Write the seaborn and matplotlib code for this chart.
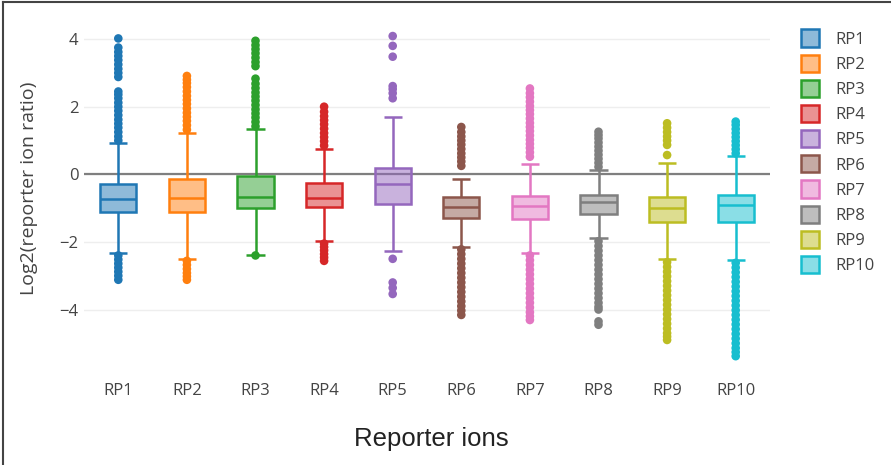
import numpy as np
import pandas as pd
import matplotlib
matplotlib.use("Agg")
import matplotlib.pyplot as plt
import seaborn as sns
from matplotlib.patches import Patch
from matplotlib.lines import Line2D
from matplotlib.colors import to_rgba

# ---------------- data ----------------
ions = ["RP1", "RP2", "RP3", "RP4", "RP5", "RP6", "RP7", "RP8", "RP9", "RP10"]
colors = ["#1f77b4", "#ff7f0e", "#2ca02c", "#d62728", "#9467bd",
          "#8c564b", "#e377c2", "#7f7f7f", "#bcbd22", "#17becf"]

whisker_low = [-2.32, -2.50, -2.40, -1.98, -2.26, -2.15, -2.32, -1.89, -2.51, -2.54]
q1 = [-1.10, -1.11, -1.00, -0.98, -0.88, -1.28, -1.33, -1.17, -1.42, -1.41]
median = [-0.74, -0.71, -0.66, -0.69, -0.29, -0.96, -0.94, -0.81, -1.00, -0.92]
q3 = [-0.28, -0.15, -0.04, -0.27, 0.18, -0.66, -0.64, -0.60, -0.66, -0.60]
whisker_high = [0.92, 1.23, 1.33, 0.76, 1.70, -0.15, 0.31, 0.14, 0.34, 0.54]

rp1_outliers = [1.0, 1.12, 1.25, 1.38, 1.5, 1.62, 1.75, 1.88, 2.0, 2.12, 2.25, 2.36, 2.45,
                2.88, 3.0, 3.12, 3.25, 3.38, 3.5, 3.62, 3.75, 4.02,
                -2.4, -2.52, -2.64, -2.76, -2.88, -3.0, -3.12]
rp2_outliers = [1.32, 1.45, 1.58, 1.7, 1.82, 1.95, 2.08, 2.2, 2.32, 2.45, 2.58, 2.7, 2.8, 2.91,
                -2.56, -2.68, -2.8, -2.92, -3.02, -3.12]
rp3_outliers = [1.42, 1.55, 1.68, 1.8, 1.92, 2.05, 2.18, 2.3, 2.42, 2.55, 2.68, 2.83,
                3.2, 3.32, 3.45, 3.58, 3.7, 3.82, 3.95,
                -2.4]
rp4_outliers = [0.85, 0.98, 1.1, 1.22, 1.35, 1.48, 1.6, 1.72, 1.85, 2.0,
                -2.05, -2.15, -2.25, -2.36, -2.46, -2.56]
rp5_outliers = [2.25, 2.4, 2.52, 2.61, 3.48, 3.8, 4.09,
                -2.5, -3.2, -3.36, -3.54]
rp6_outliers = [0.25, 0.38, 0.5, 0.62, 0.75, 0.88, 1.0, 1.12, 1.25, 1.4,
                -2.22, -2.36, -2.5, -2.64, -2.78, -2.92, -3.06, -3.2, -3.34,
                -3.48, -3.62, -3.76, -3.9, -4.03, -4.16]
rp7_outliers = [0.52, 0.65, 0.78, 0.9, 1.02, 1.15, 1.28, 1.4, 1.52, 1.65, 1.78, 1.9,
                2.02, 2.15, 2.28, 2.4, 2.54,
                -2.4, -2.54, -2.68, -2.82, -2.96, -3.1, -3.24, -3.38, -3.52,
                -3.66, -3.8, -3.94, -4.08, -4.2, -4.31]
rp8_outliers = [0.22, 0.34, 0.46, 0.58, 0.7, 0.82, 0.94, 1.06, 1.16, 1.26,
                -1.98, -2.12, -2.26, -2.4, -2.54, -2.68, -2.82, -2.96, -3.1,
                -3.24, -3.38, -3.52, -3.66, -3.8, -3.92, -4.0, -4.35, -4.45]
rp9_outliers = [0.57, 0.87, 1.0, 1.12, 1.25, 1.38, 1.51,
                -2.6, -2.74, -2.88, -3.02, -3.16, -3.3, -3.44, -3.58, -3.72,
                -3.86, -4.0, -4.14, -4.28, -4.42, -4.56, -4.7, -4.8, -4.9]
rp10_outliers = [0.62, 0.74, 0.86, 0.98, 1.1, 1.22, 1.34, 1.46, 1.56,
                 -2.62, -2.76, -2.9, -3.04, -3.18, -3.32, -3.46, -3.6, -3.74,
                 -3.88, -4.02, -4.16, -4.3, -4.44, -4.58, -4.72, -4.86, -5.0,
                 -5.14, -5.26, -5.38]
outlier_lists = [rp1_outliers, rp2_outliers, rp3_outliers, rp4_outliers, rp5_outliers,
                 rp6_outliers, rp7_outliers, rp8_outliers, rp9_outliers, rp10_outliers]

y_ticks = [-4, -2, 0, 2, 4]

# ---------------- tables ----------------
# five-number summary per box; with whis=(0, 100) and linear percentiles,
# these 5 values give exactly q1 / median / q3 and the whisker ends
box_rows = []
for i, ion in enumerate(ions):
    for v in (whisker_low[i], q1[i], median[i], q3[i], whisker_high[i]):
        box_rows.append({"ion": ion, "value": v})
box_df = pd.DataFrame(box_rows)

out_rows = []
for ion, vals in zip(ions, outlier_lists):
    for v in vals:
        out_rows.append({"ion": ion, "value": v})
out_df = pd.DataFrame(out_rows)

# ---------------- figure ----------------
W, H = 891, 465
fig = plt.figure(figsize=(W / 100, H / 100), dpi=100)
fig.patch.set_facecolor("white")

ax_left, ax_right, ax_top, ax_bot = 84, 770, 23.9, 365.3
ax = fig.add_axes([ax_left / W, 1 - ax_bot / H, (ax_right - ax_left) / W, (ax_bot - ax_top) / H])

tick_font = ["Open Sans", "DejaVu Sans"]
LW = 1.8

sns.boxplot(data=box_df, x="ion", y="value", hue="ion", order=ions, hue_order=ions,
            palette=colors, whis=(0, 100), showfliers=False, width=0.53,
            linewidth=LW, legend=False, ax=ax, zorder=2)

for i, cont in enumerate(ax.containers):
    c = colors[i]
    for b in cont.boxes:
        b.set_facecolor(to_rgba(c, 0.5))
        b.set_edgecolor(c)
        b.set_linewidth(LW)
    for ln in list(cont.medians) + list(cont.whiskers) + list(cont.caps):
        ln.set_color(c)
        ln.set_linewidth(LW)
        ln.set_solid_capstyle("butt")

sns.stripplot(data=out_df, x="ion", y="value", hue="ion", order=ions, hue_order=ions,
              palette=colors, jitter=False, size=6.2, linewidth=0, legend=False,
              ax=ax, zorder=3)

ax.set_xlim(-0.5, 9.5)
ax.set_ylim(-5.65, 4.45)
ax.set_yticks(y_ticks)
ax.set_yticklabels([f"{t}".replace("-", "\u2212") for t in y_ticks])
ax.axhline(0, color="#7f7f7f", lw=1.6, zorder=1)
ax.grid(False)
ax.yaxis.grid(True, color="#eeeeee", lw=1.0, zorder=0)
ax.set_axisbelow(True)
for s in ax.spines.values():
    s.set_visible(False)
ax.tick_params(axis="both", length=0, colors="#444444", labelsize=12)
ax.tick_params(axis="y", pad=4)
ax.tick_params(axis="x", pad=13)
for lab in ax.get_xticklabels() + ax.get_yticklabels():
    lab.set_family(tick_font)
ax.set_xlabel("")
ax.set_ylabel("")

fig.text(29 / W, 1 - 188.5 / H, "Log2(reporter ion ratio)", rotation=90,
         ha="center", va="center", fontsize=14, color="#444444", family=tick_font)
fig.text(431 / W, 1 - 439 / H, "Reporter ions", ha="center", va="center",
         fontsize=18.5, color="#222222", family=["Liberation Sans", "DejaVu Sans"])

handles = [Patch(facecolor=to_rgba(c, 0.5), edgecolor=c, linewidth=LW) for c in colors]
leg = fig.legend(handles, ions, loc="upper left", bbox_to_anchor=(801 / W, 1 - 29.5 / H),
                 bbox_transform=fig.transFigure, frameon=False,
                 handlelength=1.05, handleheight=1.2, handletextpad=1.0,
                 labelspacing=0.42, borderaxespad=0, borderpad=0,
                 prop={"family": tick_font, "size": 12})
for t in leg.get_texts():
    t.set_color("#444444")

# partial frame of the screenshot (left and top edges)
fig.add_artist(Line2D([2.5 / W, 2.5 / W], [0, 1 - 2.5 / H], transform=fig.transFigure,
                      color="#444444", lw=1.5))
fig.add_artist(Line2D([2.5 / W, 1], [1 - 2.5 / H, 1 - 2.5 / H], transform=fig.transFigure,
                      color="#444444", lw=1.5))

fig.savefig("out.png", dpi=100, facecolor="white")
